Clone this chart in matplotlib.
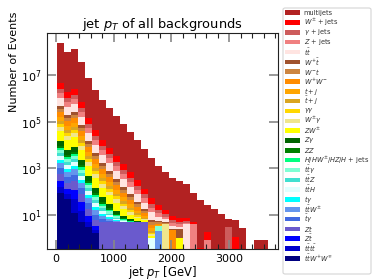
import numpy as np
import matplotlib
matplotlib.use("Agg")
import matplotlib.pyplot as plt
from matplotlib.patches import Rectangle, FancyBboxPatch
from matplotlib.ticker import FixedLocator, NullLocator, MultipleLocator, LogFormatterMathtext

# bin edges of the jet pT histogram (30 bins)
edges = np.linspace(21, 3665, 31)

# process names / colours, in legend order (top of stack first)
labels = ['multijets', r'$W^{\pm}$ + jets', r'$\gamma$ + jets', r'$Z$ + jets', r'$t\bar{t}$',
          r'$W^{+}\bar{t}$', r'$W^{-}t$', r'$W^{+}W^{-}$', r'$t+j$', r'$\bar{t}+j$',
          r'$\gamma\gamma$', r'$W^{\pm}\gamma$', r'$ZW^{\pm}$', r'$Z\gamma$', r'$ZZ$',
          r'$H/HW^{\pm}/HZ/H$ + jets', r'$t\bar{t}\gamma$', r'$t\bar{t}Z$', r'$t\bar{t}H$',
          r'$t\gamma$', r'$t\bar{t}W^{\pm}$', r'$\bar{t}\gamma$', r'$Zt$', r'$Z\bar{t}$',
          r'$t\bar{t}t\bar{t}$', r'$t\bar{t}W^{+}W^{\mp}$']
colors = ['firebrick', 'red', 'indianred', 'lightcoral', 'mistyrose', 'sienna', 'peru',
          'darkorange', 'orange', 'goldenrod', 'gold', 'khaki', 'yellow', 'darkgreen',
          'green', 'springgreen', 'aquamarine', 'turquoise', 'lightcyan', 'cyan',
          'cornflowerblue', 'royalblue', 'slateblue', 'blue', 'mediumblue', 'navy']

# events per bin for each process
multijets = [2.25e8, 9.1e7, 1.27e8, 3.43e7, 7.06e6, 2.16e6, 8.3e5, 3.82e5, 1.72e5, 7.7e4,
             3.5e4, 1.57e4, 6.6e3, 2.75e3, 1.22e3, 675, 375, 278, 206, 83,
             42, 24.5, 19, 11.5, 3.8, 5, 2.8, 0, 0.85, 0.85]
w_jets = [1.98e6, 8.05e5, 1.11e6, 2.99e5, 6.25e4, 1.89e4, 7.35e3, 3.36e3, 1.5e3, 686,
          313, 140, 58, 24, 10.9, 6.0, 3.4, 2.5, 1.8, 0.75,
          0.4, 1.1, 0, 0, 0, 1.2, 0, 0, 0, 0]
gamma_jets = [8.0e5, 3.25e5, 4.5e5, 1.21e5, 2.5e4, 7.6e3, 3.0e3, 1.36e3, 605, 277,
              126, 56, 24, 9.6, 4.4, 2.4, 1.36, 1.0, 0.74, 0.3,
              0, 0, 0, 0, 3, 0, 0, 0, 0, 0]
z_jets = [6.4e5, 2.6e5, 3.6e5, 9.7e4, 2.0e4, 6.1e3, 2.4e3, 1.09e3, 486, 222,
          102, 45, 19, 7.7, 3.5, 1.9, 1.1, 0.8, 0.6, 4,
          0, 0.85, 0, 0, 0, 0, 0, 0, 0, 0]
ttbar = [5.5e5, 2.2e5, 3.1e5, 8.3e4, 1.73e4, 5.2e3, 2.0e3, 930, 415, 190,
         87, 39, 16, 6.6, 3.0, 1.65, 0.93, 0.69, 4, 0,
         0, 0, 0, 0, 0, 0, 0, 0, 0, 0]
wplus_tbar = [1.19e5, 4.9e4, 6.7e4, 1.8e4, 3.8e3, 1.14e3, 443, 202, 90, 41,
              19, 8.4, 3.5, 1.4, 0.65, 0.36, 0.2, 1.5, 0, 0,
              0, 0, 0, 0, 0, 0, 0, 0, 0, 0]
wminus_t = [8.7e4, 3.5e4, 4.9e4, 1.32e4, 2.75e3, 830, 324, 148, 66, 30,
            13.8, 6.2, 2.6, 1.05, 0.48, 0.26, 0, 0, 0, 0,
            0, 0, 0, 0, 0, 0, 0, 0, 0, 0]
ww = [9.8e4, 4.0e4, 5.5e4, 1.48e4, 3.1e3, 930, 363, 166, 74, 34,
      15.5, 6.9, 2.9, 1.17, 0.54, 0.3, 2.3, 0, 0, 0,
      0, 0, 0, 0, 0, 0, 0, 0, 0, 0]
t_j = [5.0e4, 2.04e4, 2.8e4, 7.6e3, 1.58e3, 479, 186, 85, 38, 17.4,
       7.9, 3.5, 1.48, 0.6, 0.28, 0, 0, 0, 0, 0,
       0, 0, 0, 0, 0, 0, 0, 0, 0, 0]
tbar_j = [2.7e4, 1.09e4, 1.5e4, 4.1e3, 850, 256, 100, 45, 20, 9.3,
          4.2, 1.9, 0.79, 0.32, 0, 0, 0, 0, 0, 0,
          0, 0, 0, 0, 0, 0, 0, 0, 0, 0]
gamma_gamma = [2.0e4, 8.0e3, 1.1e4, 3.0e3, 622, 188, 73, 33, 15, 6.8,
               3.1, 1.4, 0.58, 0.24, 0, 0, 0, 0, 0, 0,
               0, 0, 0, 0, 0, 0, 0, 0, 0, 0]
w_gamma = [1.9e4, 7.6e3, 1.05e4, 2.9e3, 594, 180, 70, 32, 14.3, 6.5,
           2.9, 1.32, 0.55, 0.23, 0, 4, 0, 0, 0, 0,
           0, 0, 0, 0, 0, 0, 0, 0, 0, 0]
zw = [2.4e4, 9.9e3, 1.36e4, 3.7e3, 767, 232, 90, 41, 18.4, 8.4,
      3.8, 1.7, 0.72, 0.29, 0, 0, 0, 1.0, 0, 0,
      0, 0, 0, 0, 0, 0, 0, 0, 0, 0]
z_gamma = [5.6e3, 2.3e3, 3.2e3, 850, 177, 54, 21, 9.5, 4.3, 1.9,
           0.89, 0.4, 0.17, 0, 0, 0, 0, 0, 0, 0,
           0, 0, 0, 0, 0, 0, 0, 0, 0, 0]
zz = [1.58e3, 644, 890, 239, 50, 15, 5.9, 2.7, 1.2, 0.55,
      0.25, 0, 0, 0, 0, 0, 0, 0, 0, 0,
      0, 0, 0, 0, 0, 0, 0, 0, 0, 0]
higgs = [1.3e3, 532, 735, 197, 41, 12.4, 4.9, 2.2, 1.0, 0.45,
         0.2, 0, 0, 0, 0, 0, 0, 0, 0, 0,
         0, 0, 0, 0, 0, 0, 0, 0, 0, 0]
tt_gamma = [1.51e3, 616, 850, 229, 48, 14.4, 5.6, 2.6, 1.15, 0.53,
            0.24, 0, 0, 0, 1.5, 0, 0, 0, 0, 0,
            0, 0, 0, 0, 0, 0, 0, 0, 0, 0]
tt_z = [1.14e3, 466, 644, 173, 36, 10.9, 4.3, 1.95, 0.87, 0.4,
        0, 0, 0, 0, 0, 0, 0, 0, 0, 0,
        0, 0, 0, 0, 0, 0, 0, 0, 0, 0]
tt_h = [1.05e3, 430, 594, 159, 33, 10, 3.9, 1.8, 0.8, 0.37,
        0, 0, 0, 1.0, 0, 0, 0, 0, 0, 0,
        0, 0, 0, 0, 0, 0, 0, 0, 0, 0]
t_gamma = [572, 233, 322, 87, 18, 5.4, 2.1, 0.98, 0.43, 0,
           0, 0, 0, 0, 0, 0, 0, 0, 0, 0,
           0, 0, 0, 0, 0, 0, 0, 0, 0, 0]
tt_w = [641, 261, 361, 97, 20, 6.1, 2.4, 1.1, 0.49, 0,
        0, 0, 0, 0, 2, 0, 0, 0, 0, 0,
        0, 0, 0, 0, 0, 0, 0, 0, 0, 0]
tbar_gamma = [449, 183, 253, 68, 14, 4.3, 1.7, 0.77, 0, 0,
              0, 0, 0, 0, 0, 0, 0, 0, 0, 0,
              0, 0, 0, 0, 0, 0, 0, 0, 0, 0]
z_t = [277, 113, 156, 42, 8.8, 2.6, 5, 5, 5, 5,
       5, 5, 5, 0, 0, 0, 0, 0, 0, 0,
       0, 0, 0, 0, 0, 0, 0, 0, 0, 0]
z_tbar = [125, 51, 71, 19, 4.0, 1.2, 0, 0, 0, 0,
          0, 0, 0, 0, 0, 0, 0, 0, 0, 0,
          0, 0, 0, 0, 0, 0, 0, 0, 0, 0]
tttt = [69, 28, 39, 10.4, 2.2, 0.65, 0, 0, 0, 0,
        0, 0, 0, 0, 0, 0, 0, 0, 0, 0,
        0, 0, 0, 0, 0, 0, 0, 0, 0, 0]
ttww = [85, 50, 12, 5, 3, 1.7, 0, 0, 0, 0,
        0, 0, 0, 0, 0, 0, 0, 0, 0, 0,
        0, 0, 0, 0, 0, 0, 0, 0, 0, 0]

samples = [multijets, w_jets, gamma_jets, z_jets, ttbar, wplus_tbar, wminus_t, ww, t_j,
           tbar_j, gamma_gamma, w_gamma, zw, z_gamma, zz, higgs, tt_gamma, tt_z, tt_h,
           t_gamma, tt_w, tbar_gamma, z_t, z_tbar, tttt, ttww]

centers = 0.5 * (edges[:-1] + edges[1:])

W, H = 374, 280
fig = plt.figure(figsize=(W / 100, H / 100), dpi=100)
ax = fig.add_axes([0.1249, 0.1107, 0.6185, 0.7704])

# stack from the smallest process (bottom) up to multijets (top)
ax.hist([centers] * len(samples), bins=edges,
        weights=[np.array(s, dtype=float) for s in samples[::-1]],
        stacked=True, color=colors[::-1], histtype='bar', log=True, linewidth=0)

ax.set_yscale('log')
ax.set_xlim(-161, 3847)
ax.set_ylim(0.35, 6.1e8)

ax.yaxis.set_major_locator(FixedLocator([1e1, 1e3, 1e5, 1e7]))
ax.yaxis.set_major_formatter(LogFormatterMathtext())
ax.yaxis.set_minor_locator(NullLocator())
ax.xaxis.set_major_locator(MultipleLocator(1000))
ax.xaxis.set_minor_locator(MultipleLocator(200))

ax.tick_params(which='both', direction='in', top=True, right=True, labelsize=8)
ax.tick_params(which='major', length=6.5, width=1.2, color='#888888')
ax.tick_params(which='minor', length=3.3, width=0.8, color='#222222')
for sp in ax.spines.values():
    sp.set_color('#222222')

ax.set_title(r'jet $p_T$ of all backgrounds', fontsize=9.4, pad=4)
ax.set_xlabel(r'jet $p_T$ [GeV]', fontsize=8.3, labelpad=0)
fig.text(0.037, 0.78, 'Number of Events', rotation=90, fontsize=8,
         ha='center', va='center')

# legend box drawn by hand so the 26 rows keep an even spacing
frame = FancyBboxPatch((283 / W, 1 - 274 / H), 88 / W, 266 / H,
                       boxstyle='round,pad=0,rounding_size=0.006',
                       transform=fig.transFigure, facecolor='white',
                       edgecolor='#d5d5d5', linewidth=0.8)
fig.add_artist(frame)
for i, (lab, col) in enumerate(zip(labels, colors)):
    yc = 12.7 + 9.83 * i
    fig.add_artist(Rectangle((284.5 / W, 1 - (yc + 2.3) / H), 15 / W, 4.6 / H,
                             transform=fig.transFigure, facecolor=col,
                             edgecolor='none'))
    fig.text(303.5 / W, 1 - yc / H, lab, fontsize=4.8, color='#333333',
             ha='left', va='center')

fig.savefig('out.png', dpi=100)
